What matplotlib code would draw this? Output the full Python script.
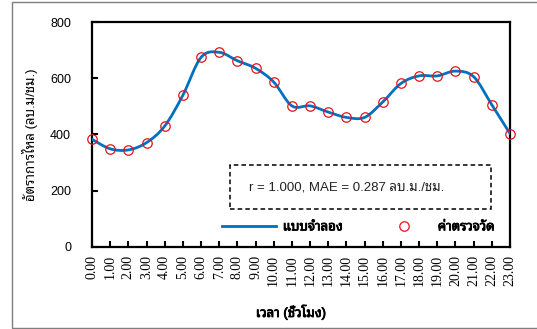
import numpy as np
import matplotlib
matplotlib.use("Agg")
import matplotlib.pyplot as plt
import matplotlib.patheffects as pe
from matplotlib.path import Path
from matplotlib.patches import PathPatch, Rectangle
from matplotlib.lines import Line2D

plt.rcParams['font.family'] = ['Liberation Sans', 'Noto Sans Thai Looped']

# hourly flow rate (cu.m/hr)
hours = list(range(24))
hour_labels = ['%d.00' % h for h in hours]
measured = [383, 349, 345, 371, 430, 540, 675, 693, 663, 636, 587, 502,
            502, 480, 461, 461, 516, 582, 609, 609, 626, 606, 506, 403]
model = [383, 349, 345, 371, 430, 540, 675, 693, 663, 636, 587, 502,
         502, 480, 461, 461, 516, 582, 609, 609, 626, 606, 506, 403]
stats_text = 'r = 1.000, MAE = 0.287 ลบ.ม./ชม.'


def smooth_path(x, y):
    # Catmull-Rom segments written as cubic Bezier curves
    pts = np.column_stack([x, y]).astype(float)
    ext = np.vstack([pts[:1], pts, pts[-1:]])
    verts = [pts[0]]
    codes = [Path.MOVETO]
    for i in range(1, len(ext) - 2):
        p0, p1, p2, p3 = ext[i - 1], ext[i], ext[i + 1], ext[i + 2]
        verts += [p1 + (p2 - p0) / 6, p2 - (p3 - p1) / 6, p2]
        codes += [Path.CURVE4] * 3
    return Path(verts, codes)


# thin outline to thicken the Thai glyphs (no bold face installed)
heavy = [pe.withStroke(linewidth=0.6, foreground='black')]

fig = plt.figure(figsize=(5.37, 3.29), dpi=100)
ax = fig.add_axes([0.1713, 0.2502, 0.7784, 0.682])

# chart area border
fig.patches.append(Rectangle((12 / 537, 1 / 329), 1.2, 1 - 3 / 329, transform=fig.transFigure,
                             fill=False, edgecolor='#7f7f7f', linewidth=1.0))

ax.add_patch(PathPatch(smooth_path(hours, model), fill=False, edgecolor='#0070C0',
                       linewidth=2.0, capstyle='round', zorder=3))
ax.plot(hours, measured, linestyle='none', marker='o', markersize=6.8,
        markerfacecolor='none', markeredgecolor='#E2141B', markeredgewidth=0.9,
        zorder=4, clip_on=False)

ax.set_xlim(0, 23)
ax.set_ylim(0, 800)
ax.set_yticks([0, 200, 400, 600, 800])
ax.set_xticks(hours)
ax.set_xticklabels(hour_labels, rotation=90, family=['Liberation Serif'], fontsize=10)
ax.tick_params(axis='y', direction='in', length=4, width=1.5, labelsize=9, pad=15)
ax.tick_params(axis='x', direction='in', length=4, width=1.5, pad=6)
for s in ax.spines.values():
    s.set_linewidth(1.6)
    s.set_color('black')

ax.set_ylabel('อัตราการไหล (ลบ.ม/ชม.)', fontsize=9.5)
ax.yaxis.set_label_coords(-0.129, 0.5)
fig.text(291 / 537, 1 - 312 / 329, 'เวลา (ชั่วโมง)', ha='center', va='center',
         fontsize=9.5, path_effects=heavy)

# statistics box
ax.add_patch(Rectangle((0.330, 0.168), 0.624, 0.196, transform=ax.transAxes, fill=False,
                       edgecolor='black', linewidth=1.1, linestyle=(0, (3, 2))))
ax.text(0.376, 0.262, stats_text, transform=ax.transAxes, ha='left', va='center',
        fontsize=9.5, color='#222222')

handles = [Line2D([], [], color='#0070C0', linewidth=2.0),
           Line2D([], [], linestyle='none', marker='o', markersize=6.8, markerfacecolor='none',
                  markeredgecolor='#E2141B', markeredgewidth=0.9)]
leg = ax.legend(handles, ['แบบจำลอง', 'ค่าตรวจวัด'], ncol=2, loc='center left',
                bbox_to_anchor=((222 - 92) / 418, (246.7 - 227.3) / 224.4),
                frameon=False, borderpad=0, borderaxespad=0, handlelength=4.1,
                handletextpad=0.5, columnspacing=2.6, prop={'size': 9.5})
for t in leg.get_texts():
    t.set_path_effects(heavy)

fig.savefig('out.png', dpi=100)
